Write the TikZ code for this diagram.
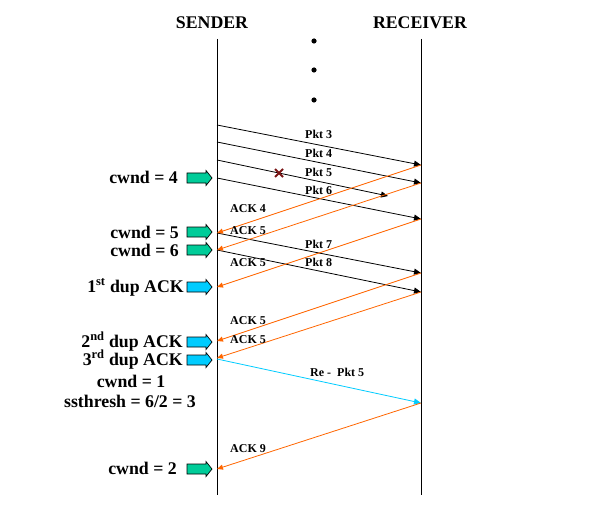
\documentclass[tikz,border=0pt]{standalone}
\usepackage{fontspec}
\setmainfont{Liberation Serif}
\usetikzlibrary{arrows.meta}
\definecolor{ackorange}{HTML}{FF6600}
\definecolor{recyan}{HTML}{00CCFF}
\definecolor{wgreen}{HTML}{00CC99}
\definecolor{lostred}{HTML}{7A1515}
\tikzset{
  lifeline/.style={line width=0.9pt},
  pkt/.style={line width=0.8pt,-{Triangle[length=7pt,width=6pt]}},
  ack/.style={line width=0.8pt,ackorange,-{Triangle[length=6pt,width=5pt]}},
  repkt/.style={line width=0.8pt,recyan,-{Triangle[length=7pt,width=6pt]}},
  bigtext/.style={font=\fontsize{17.8}{20}\selectfont\bfseries,inner sep=0pt},
  smalltext/.style={font=\fontsize{12}{14}\selectfont\bfseries,inner sep=0pt,anchor=base west},
  blockarrow/.pic={
    \path[pic actions,draw=black,line width=0.7pt]
      (-13,-5) -- (6,-5) -- (6,-7.5) -- (12,0) -- (6,7.5) -- (6,5) -- (-13,5) -- cycle;
  },
  garrow/.style={fill=wgreen},
  carrow/.style={fill=recyan},
}
\begin{document}
\begin{tikzpicture}[x=1pt,y=-1pt]
\useasboundingbox[fill=white] (0,0) rectangle (599,513);
% headers
\node[bigtext,anchor=base] (snd) at (212,29) {SENDER};
\node[bigtext,anchor=base] (rcv) at (420,29) {RECEIVER};
% lifelines
\coordinate (stop) at (217,39);
\coordinate (sbot) at (217,495);
\coordinate (rtop) at (421,39);
\coordinate (rbot) at (421,495);
\draw[lifeline] (stop) -- (sbot);
\draw[lifeline] (rtop) -- (rbot);
% dots
\fill (314,41) circle (2.6);
\fill (314,70) circle (2.6);
\fill (314,100) circle (2.6);
% endpoints on sender
\coordinate (s3) at (217,125);
\coordinate (s4) at (217,142);
\coordinate (s5) at (217,160);
\coordinate (s6) at (217,178);
\coordinate (sa4) at (217,233);
\coordinate (sa5a) at (217,250);
\coordinate (sa5b) at (217,287);
\coordinate (sa5c) at (217,341);
\coordinate (sa5d) at (217,358);
\coordinate (sre) at (217,359);
\coordinate (sa9) at (217,469);
% endpoints on receiver
\coordinate (r3) at (421,165);
\coordinate (r4) at (421,183);
\coordinate (lost5) at (388,196);
\coordinate (r6) at (421,219);
\coordinate (r7) at (421,273);
\coordinate (r8) at (421,292);
\coordinate (rre) at (421,403);
% packets
\draw[pkt] (s3) -- (r3);
\draw[pkt] (s4) -- (r4);
\draw[pkt] (s5) -- (lost5);
\draw[pkt] (s6) -- (r6);
\draw[pkt] (sa4) -- (r7);
\draw[pkt] (sa5a) -- (r8);
\draw[repkt] (sre) -- (rre);
% acks
\draw[ack] (r3) -- (sa4);
\draw[ack] (r4) -- (sa5a);
\draw[ack] (r6) -- (sa5b);
\draw[ack] (r7) -- (sa5c);
\draw[ack] (r8) -- (sa5d);
\draw[ack] (rre) -- (sa9);
% lost mark
\draw[lostred,line width=1.9pt] (275,169) -- (283,177) (275,177) -- (283,169);
% message labels
\node[smalltext] (lp3) at (305,139) {Pkt 3};
\node[smalltext] (lp4) at (305,158) {Pkt 4};
\node[smalltext] (lp5) at (305,177) {Pkt 5};
\node[smalltext] (lp6) at (305,194) {Pkt 6};
\node[smalltext] (la4) at (230,212) {ACK 4};
\node[smalltext] (la5a) at (230,234) {ACK 5};
\node[smalltext] (lp7) at (305,248) {Pkt 7};
\node[smalltext] (lp8) at (305,266) {Pkt 8};
\node[smalltext] (la5b) at (230,266) {ACK 5};
\node[smalltext] (la5c) at (230,324) {ACK 5};
\node[smalltext] (la5d) at (230,343) {ACK 5};
\node[smalltext] (lre) at (310,376) {Re -~ Pkt 5};
\node[smalltext] (la9) at (230,452) {ACK 9};
% block arrows
\pic[garrow] (b1) at (200,178) {blockarrow};
\pic[garrow] (b2) at (200,232) {blockarrow};
\pic[garrow] (b3) at (200,250) {blockarrow};
\pic[carrow] (b4) at (200,287) {blockarrow};
\pic[carrow] (b5) at (200,342) {blockarrow};
\pic[carrow] (b6) at (200,360) {blockarrow};
\pic[garrow] (b7) at (200,469) {blockarrow};
% left labels
\node[bigtext,anchor=base east] (t1) at (178,183) {cwnd = 4};
\node[bigtext,anchor=base east] (t2) at (179,238) {cwnd = 5};
\node[bigtext,anchor=base east] (t3) at (179,256) {cwnd = 6};
\node[bigtext,anchor=base east] (t4) at (184,292) {1\textsuperscript{st} dup ACK};
\node[bigtext,anchor=base east] (t5) at (183,347) {2\textsuperscript{nd} dup ACK};
\node[bigtext,anchor=base east] (t6) at (183,365) {3\textsuperscript{rd} dup ACK};
\node[bigtext,anchor=base] (t7) at (131,387) {cwnd = 1};
\node[bigtext,anchor=base] (t8) at (130,407) {ssthresh = 6/2 = 3};
\node[bigtext,anchor=base east] (t9) at (177,474) {cwnd = 2};
\end{tikzpicture}
\end{document}
